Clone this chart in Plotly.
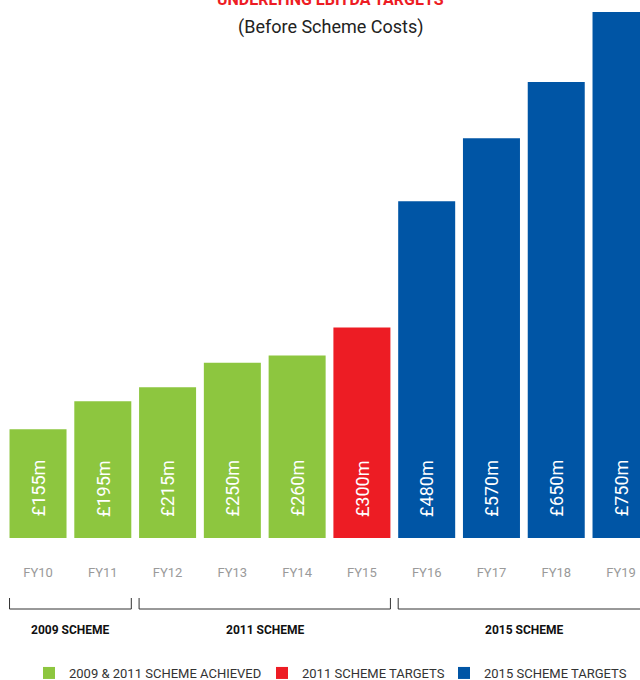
import plotly.graph_objects as go

categories = ["FY10", "FY11", "FY12", "FY13", "FY14", "FY15", "FY16", "FY17", "FY18", "FY19"]
values = [155, 195, 215, 250, 260, 300, 480, 570, 650, 750]
series_names = ["2009 & 2011 SCHEME ACHIEVED", "2011 SCHEME TARGETS", "2015 SCHEME TARGETS"]
series_members = [[0, 1, 2, 3, 4], [5], [6, 7, 8, 9]]
series_colors = ["#8DC63F", "#ED1C24", "#0055A5"]
schemes = ["2009 SCHEME", "2011 SCHEME", "2015 SCHEME"]
scheme_spans = [(0, 1), (2, 5), (6, 9)]

FONT = "Roboto, Liberation Sans, sans-serif"
W, H = 640, 680
BW = 0.88

fig = go.Figure()
legend_ids = ["legend", "legend2", "legend3"]
for name, members, color, lg in zip(series_names, series_members, series_colors, legend_ids):
    fig.add_trace(go.Bar(
        x=[categories[i] for i in members],
        y=[values[i] for i in members],
        name=name, marker=dict(color=color, line=dict(width=0)),
        width=BW, legend=lg, hoverinfo="skip",
    ))

# value labels inside bars
for c, v in zip(categories, values):
    fig.add_annotation(x=c, y=71, text=f"£{v}m", textangle=-90, showarrow=False,
                       font=dict(family=FONT, size=18, color="white"),
                       xanchor="center", yanchor="middle")

plot_h = 538.0
def py(pix):
    return (plot_h - pix) / plot_h

# scheme brackets and labels
for label, (a, b) in zip(schemes, scheme_spans):
    x0 = a - BW / 2
    x1 = b + BW / 2
    fig.add_shape(type="path", xref="x", yref="paper",
                  path=f"M {x0},{py(598)} L {x0},{py(609)} L {x1},{py(609)} L {x1},{py(598)}",
                  line=dict(color="#333333", width=1))
    fig.add_annotation(x=(a + b) / 2, y=py(630), xref="x", yref="paper", text=f"<b>{label}</b>",
                       showarrow=False, font=dict(family=FONT, size=12, color="#111111"),
                       xanchor="center", yanchor="middle")

# title
fig.add_annotation(x=330 / W, y=py(-1), xref="paper", yref="paper",
                   text="<b>UNDERLYING EBITDA TARGETS</b>", showarrow=False,
                   font=dict(family=FONT, size=16, color="#ED1C24"),
                   xanchor="center", yanchor="middle")
fig.add_annotation(x=330 / W, y=py(27), xref="paper", yref="paper",
                   text="(Before Scheme Costs)", showarrow=False,
                   font=dict(family=FONT, size=18, color="#222222"),
                   xanchor="center", yanchor="middle")

leg_x = [29, 262, 444]
legend_common = dict(orientation="h", yanchor="middle", xanchor="left", bgcolor="rgba(0,0,0,0)",
                     xref="container", yref="container",
                     font=dict(family=FONT, size=13, color="#333333"))
layout_legends = {}
for lg, lx in zip(legend_ids, leg_x):
    layout_legends[lg] = dict(x=lx / W, y=(H - 673) / H, **legend_common)

fig.update_layout(
    width=W, height=H,
    margin=dict(l=0, r=0, t=0, b=H - plot_h),
    plot_bgcolor="white", paper_bgcolor="white",
    barmode="overlay",
    showlegend=True,
    xaxis=dict(range=[-0.587, 9.293], categoryorder="array", categoryarray=categories,
               tickvals=categories, ticktext=categories, showgrid=False, zeroline=False,
               showline=False, ticks="outside", ticklen=22, tickcolor="rgba(0,0,0,0)",
               tickfont=dict(family=FONT, size=13, color="#9a9a9a"), automargin=False),
    yaxis=dict(range=[0, plot_h / 0.70145], visible=False, showgrid=False, zeroline=False),
    **layout_legends,
)

fig.write_html("out.html")
